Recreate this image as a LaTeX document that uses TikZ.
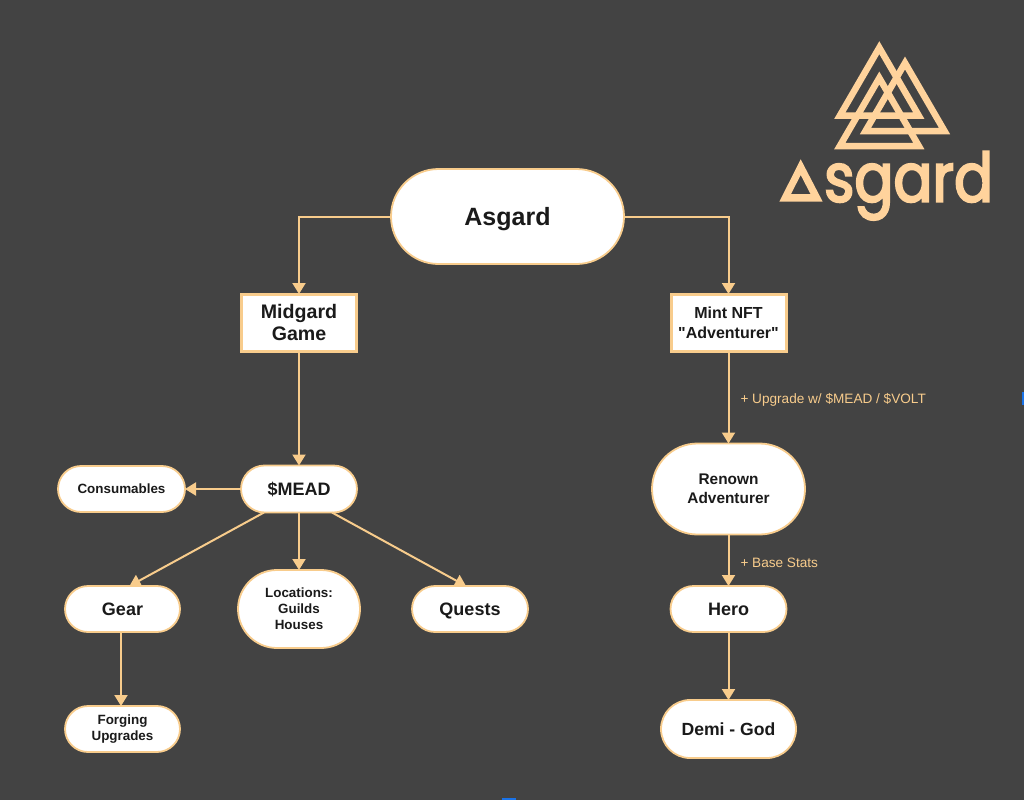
\documentclass[tikz,border=0pt]{standalone}
\usepackage{fontspec}
\setmainfont[Ligatures=TeXOff]{Liberation Sans}
\newfontfamily\logofont[FakeStretch=0.85,FakeBold=3]{Poppins}
\usetikzlibrary{shapes.misc,arrows.meta,positioning,calc}
\definecolor{bgdark}{HTML}{434343}
\definecolor{peach}{HTML}{F8CC8C}
\definecolor{logopeach}{HTML}{FFD39C}
\definecolor{inkdark}{HTML}{1A1A1A}
\definecolor{tabblue}{HTML}{1A73E8}
\tikzset{
    pill/.style={draw=peach, fill=white, rounded rectangle, line width=1.8pt, align=center, text=inkdark, font=\bfseries\fontsize{18}{22}\selectfont, inner sep=0pt, outer sep=0pt},
    oneline/.style={text depth=0pt},
    smallpill/.style={pill, font=\bfseries\fontsize{13.4}{16}\selectfont},
    squarebox/.style={draw=peach, fill=white, rectangle, line width=3pt, align=center, text=inkdark, inner sep=0pt, outer sep=0pt, minimum width=115pt, minimum height=57pt},
    link/.style={draw=peach, line width=2pt, -{Triangle[length=11pt,width=13pt]}},
    linklabel/.style={text=peach, font=\fontsize{13.6}{16}\selectfont, right=11pt, inner sep=0pt},
    logoline/.style={draw=logopeach, line width=6.5pt, line join=miter}
}
\begin{document}
\begin{tikzpicture}[x=1pt, y=-1pt]
    \useasboundingbox (0,0) rectangle (1024,800);
    \fill [bgdark] (0,0) rectangle (1024,800);
    \fill [tabblue] (1022,392) rectangle (1024,405);
    \fill [tabblue] (502,798) rectangle (516,800);

    \foreach \cx/\by in {879.3/115.7, 905/131, 879.3/146}
        \draw [logoline] (\cx,\by-68) -- (\cx+39.5,\by) -- (\cx-39.5,\by) -- cycle;
    \fill [logopeach, even odd rule] (800.7,159.3) -- (822.7,201.7) -- (779.3,201.7) -- cycle
        (800.7,175) -- (810.5,194) -- (791,194) -- cycle;
    \node [anchor=base west, inner sep=0pt, text=logopeach, font=\logofont\fontsize{68}{68}\selectfont] (logotext) at (824,201.7) {sgard};

    \node [pill, oneline, minimum width=233pt, minimum height=95pt, font=\bfseries\fontsize{25}{28}\selectfont] (asgard) at (507.5,216.5) {Asgard};
    \node [squarebox, font=\bfseries\fontsize{19.6}{22}\selectfont] (midgard) at (299,322.5) {Midgard\\Game};
    \node [squarebox, font=\bfseries\fontsize{16}{20}\selectfont] (mint) at (728.5,322.5) {Mint NFT\\"Adventurer"};

    \node [pill, oneline, minimum width=116pt, minimum height=47pt, below=114.5pt of midgard] (mead) {\$MEAD};
    \node [smallpill, oneline, minimum width=127pt, minimum height=46pt, left=56pt of mead] (consumables) {Consumables};
    \node [smallpill, minimum width=122pt, minimum height=78pt, below=57.5pt of mead] (locations) {Locations:\\Guilds\\Houses};
    \node [pill, oneline, minimum width=115pt, minimum height=46pt, left=58pt of locations] (gear) {Gear};
    \node [pill, oneline, minimum width=116pt, minimum height=46pt, right=52pt of locations] (quests) {Quests};
    \node [smallpill, minimum width=115pt, minimum height=46pt, below=74pt of gear] (forging) {Forging\\Upgrades};

    \node [smallpill, minimum width=153pt, minimum height=91pt, below=92.5pt of mint, font=\bfseries\fontsize{15.4}{19}\selectfont] (renown) {Renown\\Adventurer};
    \node [pill, oneline, minimum width=116pt, minimum height=46pt, below=51.5pt of renown] (hero) {Hero};
    \node [pill, oneline, minimum width=135pt, minimum height=58pt, below=68pt of hero, font=\bfseries\fontsize{17.6}{20}\selectfont] (demi) {Demi - God};

    \draw [link] (asgard.west) -| (midgard.north);
    \draw [link] (asgard.east) -| (mint.north);
    \draw [link] (midgard.south) -- (mead.north);
    \draw [link] (mead.west) -- (consumables.east);
    \draw [link] ([xshift=-35pt]mead.south) -- ([xshift=7pt]gear.north);
    \draw [link] (mead.south) -- (locations.north);
    \draw [link] ([xshift=33pt]mead.south) -- ([xshift=-4pt]quests.north);
    \draw [link] ([xshift=-1.5pt]gear.south) -- ([xshift=-1.5pt]forging.north);
    \draw [link] (mint.south) -- node [linklabel, yshift=-3pt] (upgradelabel) {+ Upgrade w/ \$MEAD / \$VOLT} (renown.north);
    \draw [link] (renown.south) -- node [linklabel, yshift=-3pt] (statslabel) {+ Base Stats} (hero.north);
    \draw [link] (hero.south) -- (demi.north);
\end{tikzpicture}
\end{document}
